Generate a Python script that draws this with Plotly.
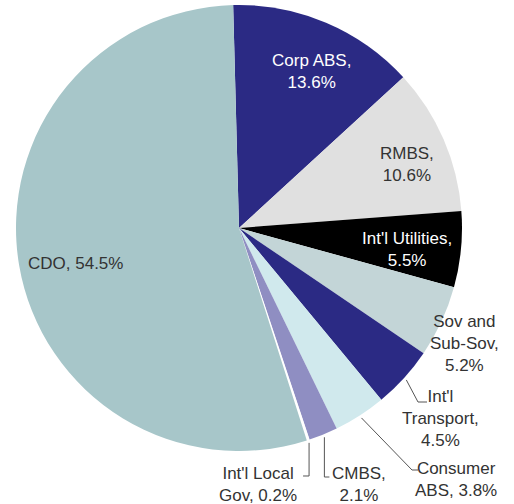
import math
import plotly.graph_objects as go

# ---- data ----
labels = ["Corp ABS", "RMBS", "Int'l Utilities", "Sov and Sub-Sov", "Int'l Transport",
          "Consumer ABS", "CMBS", "Int'l Local Gov", "CDO"]
values = [13.6, 10.6, 5.5, 5.2, 4.5, 3.8, 2.1, 0.2, 54.5]
label_text = ["Corp ABS,<br>13.6%", "RMBS,<br>10.6%", "Int'l Utilities,<br>5.5%",
              "Sov and<br>Sub-Sov,<br>5.2%", "Int'l<br>Transport,<br>4.5%",
              "Consumer<br>ABS, 3.8%", "CMBS,<br>2.1%", "Int'l Local<br>Gov, 0.2%",
              "CDO, 54.5%"]
colors = ["#2B2A84", "#E0E0E0", "#000000", "#C3D5D7", "#2B2A84",
          "#D0E9ED", "#8F8EC2", "#FFFFFF", "#A7C6C9"]
text_colors = ["#FFFFFF", "#333333", "#FFFFFF", "#333333", "#333333",
               "#333333", "#333333", "#333333", "#333333"]

# ---- layout geometry (pixels) ----
W, H = 514, 504
CX, CY, R = 239, 228, 223
ROT = -1.5
FONT = "Liberation Sans, Arial, sans-serif"

def paper(x, y):
    return x / W, 1 - y / H

# label centres (pixels)
label_pos = [(311, 72), (407, 165), (407, 249), (464, 343), (440, 418),
             (456, 479), (359, 484), (258, 484), (75, 263)]
# leader lines: elbow and end points (pixels)
leaders = {4: [(418, 402), (427, 402)],
           5: [(412, 470), (418, 470)],
           6: ["vert", 477, +5],
           7: ["vert", 476, -6]}

total = sum(values)
cum = 0
mids = []
for v in values:
    mids.append((cum + v / 2) / total)
    cum += v

fig = go.Figure(go.Pie(
    labels=labels, values=values, sort=False, direction="clockwise", rotation=ROT,
    marker=dict(colors=colors, line=dict(width=0)),
    textinfo="none", hoverinfo="label+percent", showlegend=False,
    domain=dict(x=[(CX - R) / W, (CX + R) / W], y=[1 - (CY + R) / H, 1 - (CY - R) / H]),
))

annotations = []
for i, t in enumerate(label_text):
    x, y = paper(*label_pos[i])
    annotations.append(dict(x=x, y=y, xref="paper", yref="paper", text=t, showarrow=False,
                            font=dict(family=FONT, size=17, color=text_colors[i]),
                            align="center", xanchor="center", yanchor="middle"))

shapes = []
for i, spec in leaders.items():
    th = 2 * math.pi * mids[i] + math.radians(ROT)
    rr = R + 3
    sx, sy = CX + rr * math.sin(th), CY - rr * math.cos(th)
    if spec[0] == "vert":
        pts = [(sx, sy), (sx, spec[1]), (sx + spec[2], spec[1])]
    else:
        pts = [(sx, sy)] + spec
    path = ""
    for k, (px, py) in enumerate(pts):
        X, Y = paper(px, py)
        path += ("M" if k == 0 else "L") + f"{X:.5f},{Y:.5f} "
    shapes.append(dict(type="path", xref="paper", yref="paper", path=path,
                       line=dict(color="#555555", width=1)))

fig.update_layout(width=W, height=H, margin=dict(l=0, r=0, t=0, b=0),
                  paper_bgcolor="white", plot_bgcolor="white",
                  annotations=annotations, shapes=shapes)
fig.write_html("out.html")
